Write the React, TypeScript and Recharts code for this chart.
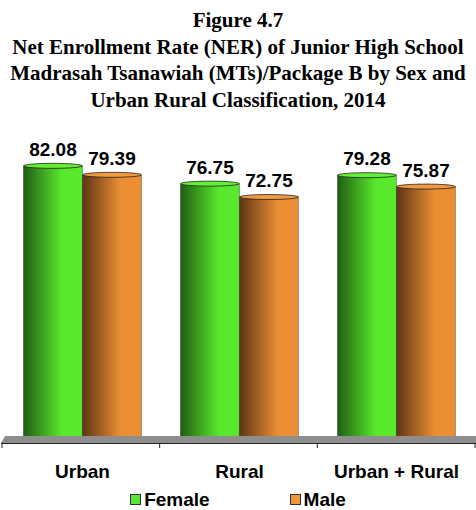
import React from 'react'
import { BarChart, Bar, XAxis, YAxis, LabelList, Legend, ReferenceLine } from 'recharts'

const categories = ['Urban', 'Rural', 'Urban + Rural']
const femaleValues = [82.08, 76.75, 79.28]
const maleValues = [79.39, 72.75, 75.87]

const data = categories.map((name, i) => ({
  name,
  female: femaleValues[i],
  male: maleValues[i],
}))

const SANS = '"Liberation Sans", Arial, sans-serif'
const SERIF = '"Liberation Serif", "Times New Roman", serif'

const palette: Record<string, { dark: string; light: string; cap: string; legend: string }> = {
  female: { dark: '#1f5e12', light: '#58e82c', cap: '#62f034', legend: '#5ae632' },
  male: { dark: '#5e3413', light: '#ec8f34', cap: '#f29a40', legend: '#f0963a' },
}

function Cylinder(props: any) {
  const { x, y, width, height, dataKey } = props
  if (width == null || height == null) return null
  const key = dataKey as string
  const c = palette[key]
  const cx = x + width / 2
  const rx = width / 2
  return (
    <g>
      <ellipse cx={cx} cy={y + height} rx={rx} ry={3} fill={`url(#grad-${key})`} stroke="#444" strokeWidth={0.4} />
      <rect x={x} y={y} width={width} height={height} fill={`url(#grad-${key})`} />
      <line x1={x} y1={y} x2={x} y2={y + height} stroke="#333" strokeWidth={0.5} />
      <line x1={x + width} y1={y} x2={x + width} y2={y + height} stroke="#555" strokeWidth={0.5} />
      <ellipse cx={cx} cy={y} rx={rx} ry={2.5} fill={c.cap} stroke="#222" strokeWidth={0.8} />
    </g>
  )
}

function Floor(props: any) {
  const { x1, x2, y1 } = props
  if (x1 == null) return null
  const ticks = [0, 1, 2, 3].map((i) => x1 - 2 + (i * (x2 - x1 + 2)) / 3)
  return (
    <g>
      <polygon
        points={`${x1 - 3},${y1 + 3} ${x1 + 1},${y1 - 4} ${x2 + 1},${y1 - 4} ${x2 + 1},${y1 + 3}`}
        fill="#8e8e8e"
      />
      <line x1={x1 - 3} y1={y1 + 3.5} x2={x2 + 1} y2={y1 + 3.5} stroke="#222" strokeWidth={1.2} />
      {ticks.map((t) => (
        <line key={t} x1={t} y1={y1 + 3.5} x2={t} y2={y1 + 8} stroke="#222" strokeWidth={1} />
      ))}
    </g>
  )
}

function LegendContent(props: any) {
  const items = (props.payload || []) as any[]
  return (
    <div style={{ display: 'flex', justifyContent: 'center', gap: 80, fontFamily: SANS, fontWeight: 'bold', fontSize: 19, lineHeight: '17px' }}>
      {items.map((item) => (
        <div key={item.value} style={{ display: 'flex', alignItems: 'center' }}>
          <span
            style={{
              display: 'inline-block',
              width: 9,
              height: 9,
              border: '1px solid #333',
              background: palette[item.dataKey as string].legend,
              marginRight: 3,
            }}
          />
          <span style={{ color: '#000' }}>{item.value}</span>
        </div>
      ))}
    </div>
  )
}

export default function App() {
  return (
    <div style={{ position: 'absolute', left: 0, top: 0, width: 476, height: 510, background: '#fff', overflow: 'hidden' }}>
      <div
        style={{
          position: 'absolute',
          top: 7,
          left: 0,
          width: 476,
          textAlign: 'center',
          fontFamily: SERIF,
          fontWeight: 'bold',
          fontSize: 21,
          lineHeight: '26.5px',
          color: '#000',
        }}
      >
        Figure 4.7
        <br />
        Net Enrollment Rate (NER) of Junior High School
        <br />
        Madrasah Tsanawiah (MTs)/Package B by Sex and
        <br />
        Urban Rural Classification, 2014
      </div>
      <BarChart
        width={476}
        height={510}
        data={data}
        margin={{ top: 106, right: 1, bottom: 30, left: 4 }}
        barCategoryGap="12.4%"
        barGap={0}
        style={{ position: 'absolute', left: 0, top: 0 }}
      >
        <defs>
          {Object.keys(palette).map((k) => (
            <linearGradient key={k} id={`grad-${k}`} x1="0" y1="0" x2="1" y2="0">
              <stop offset="0%" stopColor={palette[k].dark} />
              <stop offset="65%" stopColor={palette[k].light} />
              <stop offset="100%" stopColor={palette[k].light} />
            </linearGradient>
          ))}
        </defs>
        <YAxis hide domain={[0, 100]} />
        <XAxis
          dataKey="name"
          height={40}
          axisLine={false}
          tickLine={false}
          tickMargin={19}
          tick={{ fontFamily: SANS, fontWeight: 'bold', fontSize: 19, fill: '#000' }}
        />
        <ReferenceLine y={0} shape={<Floor />} />
        <Legend
          verticalAlign="middle"
          align="center"
          layout="horizontal"
          wrapperStyle={{ top: 491, left: 0, width: 476 }}
          content={<LegendContent />}
        />
        <Bar dataKey="female" name="Female" fill={palette.female.legend} shape={<Cylinder />} isAnimationActive={false}>
          <LabelList dataKey="female" position="top" offset={10} style={{ fontFamily: SANS, fontWeight: 'bold', fontSize: 19, fill: '#000' }} />
        </Bar>
        <Bar dataKey="male" name="Male" fill={palette.male.legend} shape={<Cylinder />} isAnimationActive={false}>
          <LabelList dataKey="male" position="top" offset={10} style={{ fontFamily: SANS, fontWeight: 'bold', fontSize: 19, fill: '#000' }} />
        </Bar>
      </BarChart>
    </div>
  )
}
